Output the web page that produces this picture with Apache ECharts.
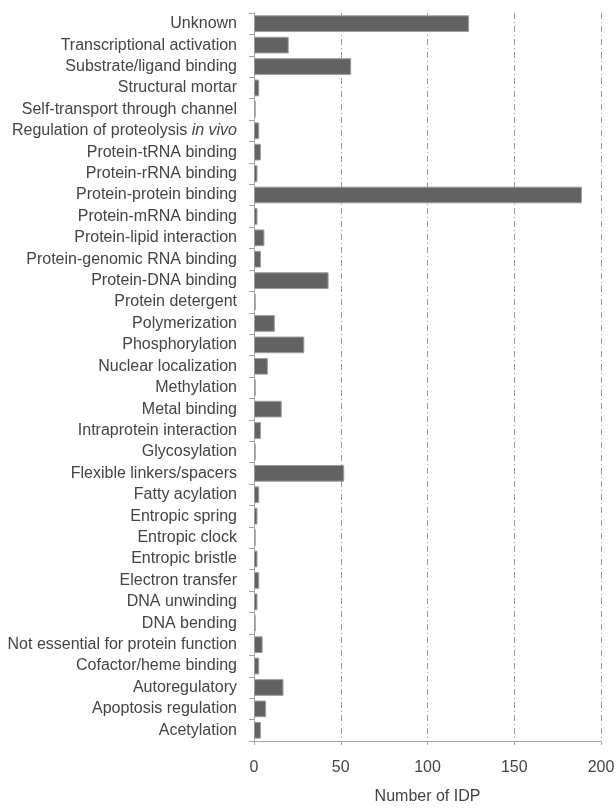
<!DOCTYPE html>
<html>
<head>
<meta charset="utf-8">
<script src="https://cdn.jsdelivr.net/npm/echarts@6/dist/echarts.min.js"></script>
<style>html,body{margin:0;padding:0;background:#fff}#c{width:616px;height:808px}</style>
</head>
<body>
<div id="c"></div>
<script>
const categories = [
  "Unknown","Transcriptional activation","Substrate/ligand binding","Structural mortar",
  "Self-transport through channel","Regulation of proteolysis in vivo","Protein-tRNA binding",
  "Protein-rRNA binding","Protein-protein binding","Protein-mRNA binding","Protein-lipid interaction",
  "Protein-genomic RNA binding","Protein-DNA binding","Protein detergent","Polymerization",
  "Phosphorylation","Nuclear localization","Methylation","Metal binding","Intraprotein interaction",
  "Glycosylation","Flexible linkers/spacers","Fatty acylation","Entropic spring","Entropic clock",
  "Entropic bristle","Electron transfer","DNA unwinding","DNA bending",
  "Not essential for protein function","Cofactor/heme binding","Autoregulatory",
  "Apoptosis regulation","Acetylation"
];
const values = [
  124, 20, 56, 3,
  1, 3, 4,
  2, 189, 2, 6,
  4, 43, 1, 12,
  29, 8, 1, 16, 4,
  1, 52, 3, 2, 1,
  2, 3, 2, 1,
  5, 3, 17,
  7, 4
];
const xTicks = [0, 50, 100, 150, 200];
const xName = "Number of IDP";

const FONT = 'Liberation Sans, Arial, sans-serif';
const chart = echarts.init(document.getElementById('c'));
chart.setOption({
  animation: false,
  grid: { left: 254, right: 15, top: 13, bottom: 67, containLabel: false, outerBoundsMode: 'none' },
  xAxis: {
    type: 'value', min: xTicks[0], max: xTicks[xTicks.length - 1], interval: 50,
    name: xName, nameLocation: 'middle', nameGap: 48,
    nameTextStyle: { fontFamily: FONT, fontSize: 16, color: '#444' },
    axisLine: { show: true, lineStyle: { color: '#a6a6a6', width: 1 } },
    axisTick: { show: true, inside: false, length: 4, lineStyle: { color: '#a6a6a6' } },
    axisLabel: { margin: 19, fontFamily: FONT, fontSize: 16, color: '#444' },
    splitLine: { show: true, lineStyle: { color: '#9a9a9a', width: 1, type: [6, 3, 1, 3] } }
  },
  yAxis: {
    type: 'category', data: categories, inverse: true,
    axisLine: { show: true, lineStyle: { color: '#a6a6a6', width: 1 } },
    axisTick: { show: true, inside: false, length: 5, alignWithLabel: false, lineStyle: { color: '#a6a6a6' } },
    axisLabel: {
      margin: 17, interval: 0, fontFamily: FONT, fontSize: 16, color: '#444',
      formatter: function (v) {
        if (v.indexOf(' in vivo') >= 0) return v.replace(' in vivo', ' ') + '{i|in vivo}';
        return v;
      },
      rich: { i: { fontStyle: 'italic', fontFamily: FONT, fontSize: 16, color: '#444' } }
    },
    splitLine: { show: false }
  },
  series: [{
    type: 'bar', data: values, barCategoryGap: '22%',
    itemStyle: { color: '#626262', borderColor: '#9e9e9e', borderWidth: 1 }
  }]
});
</script>
</body>
</html>
